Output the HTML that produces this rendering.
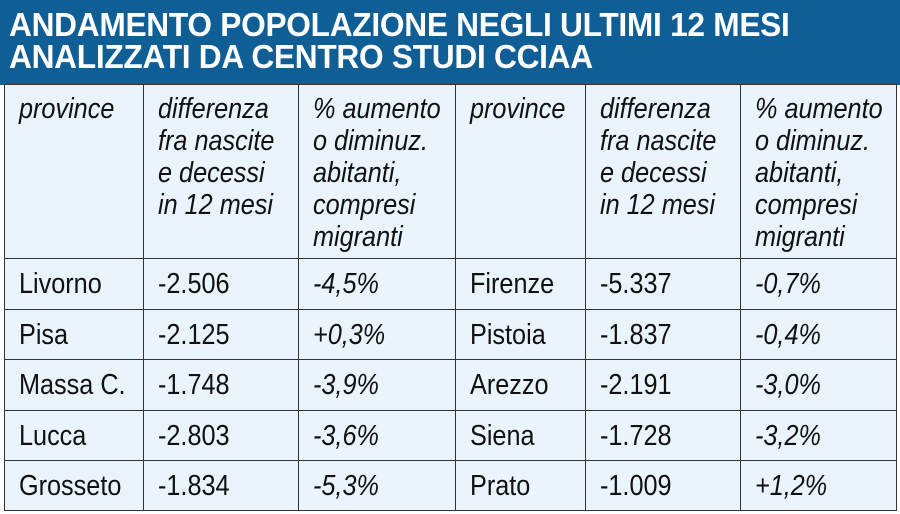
<!DOCTYPE html>
<html><head><meta charset="utf-8"><style>
body{margin:0;width:900px;height:514px;background:#fff;overflow:hidden;font-family:"Liberation Sans",sans-serif;}
#title{position:absolute;left:0;top:0;width:900px;height:85px;background:#0f5e96;color:#fff;box-sizing:border-box;padding:9px 0 0 9px}
#title span{display:inline-block;font-weight:bold;font-size:33px;line-height:32px;transform:scaleX(0.96);transform-origin:left top;white-space:nowrap;letter-spacing:-0.3px}
.c{position:absolute;background:#eaf4fd;border:1px solid #333;box-sizing:border-box;font-size:29px;color:#111;padding-left:14px;white-space:nowrap}
.c span{display:inline-block;transform:scaleX(0.87);transform-origin:left top}
.h{font-style:italic;line-height:32px;padding-top:8px}
.d{line-height:50px}
.i{font-style:italic}
</style></head><body>
<div id="title"><span>ANDAMENTO POPOLAZIONE NEGLI ULTIMI 12 MESI<br>ANALIZZATI DA CENTRO STUDI CCIAA</span></div>
<div id="t"></div>
<script>
const xs=[4,143,298,455,585,740,896];
const ys=[84,258,309,359,410,460,510];
const heads=["province","differenza<br>fra nascite<br>e decessi<br>in 12 mesi","% aumento<br>o diminuz.<br>abitanti,<br>compresi<br>migranti"];
const left=[["Livorno","-2.506","-4,5%"],["Pisa","-2.125","+0,3%"],["Massa C.","-1.748","-3,9%"],["Lucca","-2.803","-3,6%"],["Grosseto","-1.834","-5,3%"]];
const right=[["Firenze","-5.337","-0,7%"],["Pistoia","-1.837","-0,4%"],["Arezzo","-2.191","-3,0%"],["Siena","-1.728","-3,2%"],["Prato","-1.009","+1,2%"]];
const t=document.getElementById('t');
function cell(ci,ri,html,cls,name){
  const d=document.createElement('div');
  d.className='c '+cls;
  d.style.left=xs[ci]+'px';d.style.top=ys[ri]+'px';
  d.style.width=(xs[ci+1]-xs[ci]+1)+'px';d.style.height=(ys[ri+1]-ys[ri]+1)+'px';
  d.innerHTML='<span>'+html+'</span>';
  
  
  t.appendChild(d);
}
for(let s=0;s<2;s++){
  heads.forEach((h,j)=>cell(s*3+j,0,h,'h','header-cell'));
  const rows=s?right:left;
  rows.forEach((r,i)=>r.forEach((v,j)=>cell(s*3+j,i+1,v,'d'+(j==2?' i':''),j==0?'province-cell':(j==1?'difference-cell':'percent-cell'))));
}
</script>
</body></html>
